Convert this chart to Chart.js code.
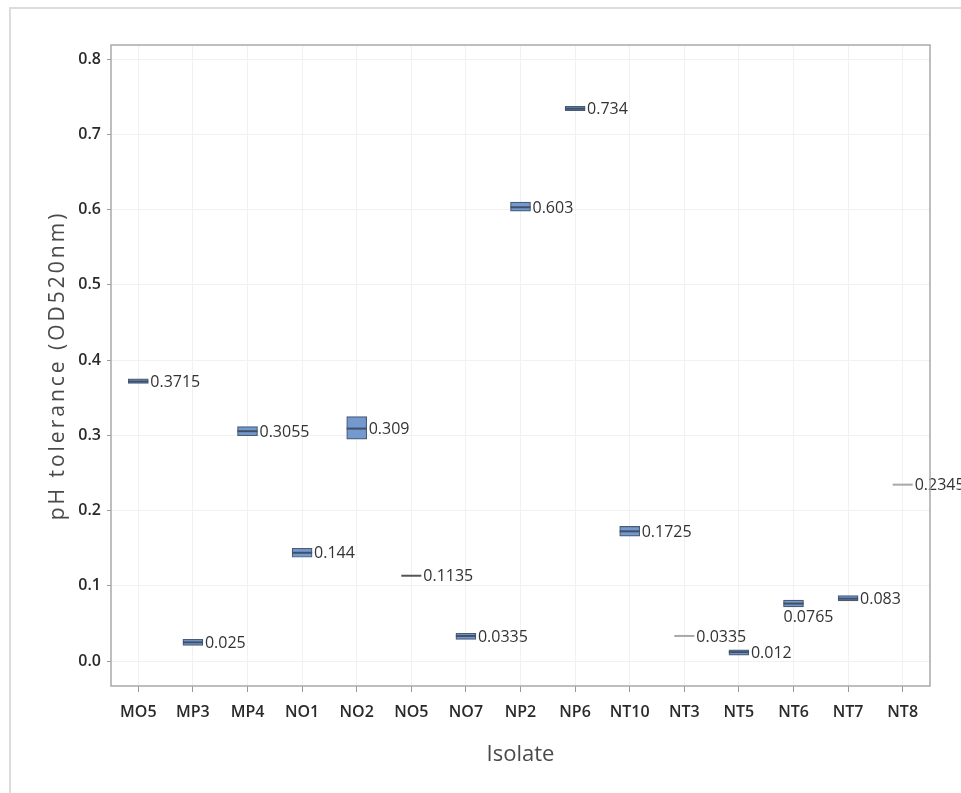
<!DOCTYPE html>
<html>
<head>
    <title>pH tolerance by isolate</title>
    <script src="https://cdn.jsdelivr.net/npm/chart.js"></script>
    <style>
        html, body { margin: 0; padding: 0; background: #fff; }
        #wrap { position: relative; width: 961px; height: 793px; overflow: hidden; }
        #frame { position: absolute; left: 9px; top: 7px; width: 1000px; height: 800px;
                 border-top: 2px solid #dcdcdc; border-left: 2px solid #dcdcdc; box-sizing: border-box; }
        #chart { position: absolute; left: 0; top: 0; }
    </style>
</head>
<body>
<div id="wrap">
    <div id="frame"></div>
    <canvas id="chart" width="961" height="793"></canvas>
</div>
<script>
// isolates and the box plot values
const isolates = ['MO5', 'MP3', 'MP4', 'NO1', 'NO2', 'NO5', 'NO7', 'NP2', 'NP6', 'NT10', 'NT3', 'NT5', 'NT6', 'NT7', 'NT8'];
const medians  = [0.3715, 0.025, 0.3055, 0.144, 0.309, 0.1135, 0.0335, 0.603, 0.734, 0.1725, 0.0335, 0.012, 0.0765, 0.083, 0.2345];
const boxLow   = [0.369, 0.021, 0.2995, 0.138, 0.295, null, 0.029, 0.598, 0.7315, 0.166, null, 0.008, 0.072, 0.080, null];
const boxHigh  = [0.375, 0.029, 0.3115, 0.150, 0.325, null, 0.037, 0.610, 0.7370, 0.179, null, 0.015, 0.081, 0.087, null];
const valueLabels = ['0.3715', '0.025', '0.3055', '0.144', '0.309', '0.1135', '0.0335', '0.603', '0.734', '0.1725', '0.0335', '0.012', '0.0765', '0.083', '0.2345'];
const yTicks = [0, 0.1, 0.2, 0.3, 0.4, 0.5, 0.6, 0.7, 0.8];

// isolates with a single reading get only a line, some drawn grey
const greyLines = ['NT3', 'NT8'];
const labelBelow = ['NT6'];

const FONT = "'Open Sans', 'Noto Sans', sans-serif";

const boxes = isolates.map((k, i) => boxLow[i] === null ? null : [boxLow[i], boxHigh[i]]);
const medianColors = isolates.map((k, i) => {
    if (greyLines.includes(k)) return '#a8a8a8';
    if (boxLow[i] === null) return '#555555';
    return '#3f5068';
});

const plotBorder = {
    id: 'plotBorder',
    afterDraw(chart) {
        const a = chart.chartArea, ctx = chart.ctx;
        ctx.save();
        ctx.strokeStyle = '#a9a9a9';
        ctx.lineWidth = 1.5;
        ctx.strokeRect(a.left, a.top, a.right - a.left, a.bottom - a.top);
        ctx.restore();
    }
};

// the y title is set with wide letter spacing in the original
const spacedTitle = {
    id: 'spacedTitle',
    beforeDraw(chart) {
        const s = chart.scales.y;
        if (s._spaced) return;
        const orig = s.drawTitle.bind(s);
        s.drawTitle = function () {
            chart.ctx.letterSpacing = '3px';
            orig();
            chart.ctx.letterSpacing = '0px';
        };
        s._spaced = true;
    }
};

const valueText = {
    id: 'valueText',
    afterDatasetsDraw(chart) {
        const ctx = chart.ctx;
        const x = chart.scales.x, y = chart.scales.y;
        ctx.save();
        ctx.font = "16px " + FONT;
        ctx.fillStyle = '#333';
        ctx.textAlign = 'left';
        isolates.forEach((k, i) => {
            const px = x.getPixelForValue(i);
            const py = y.getPixelForValue(medians[i]);
            if (labelBelow.includes(k)) {
                ctx.textBaseline = 'top';
                ctx.fillText(valueLabels[i], px - 10, y.getPixelForValue(boxLow[i]) + 2);
            } else {
                ctx.textBaseline = 'middle';
                ctx.fillText(valueLabels[i], px + 12, py + 1);
            }
        });
        ctx.restore();
    }
};

new Chart(document.getElementById('chart'), {
    type: 'bar',
    data: {
        labels: isolates,
        datasets: [{
            label: 'box',
            data: boxes,
            backgroundColor: '#7499cf',
            borderColor: '#4a5b74',
            borderWidth: 1.2,
            borderSkipped: false,
            barThickness: 20,
            order: 2
        }, {
            type: 'line',
            label: 'median',
            data: medians,
            showLine: false,
            pointStyle: 'line',
            pointRadius: 10,
            pointHoverRadius: 10,
            pointBorderWidth: 2,
            pointBorderColor: medianColors,
            pointBackgroundColor: medianColors,
            order: 1
        }]
    },
    options: {
        responsive: false,
        animation: false,
        layout: { padding: { left: 40, top: 45, right: 31, bottom: 0 } },
        plugins: {
            legend: { display: false },
            tooltip: { enabled: false }
        },
        scales: {
            x: {
                offset: true,
                grid: { offset: false, color: '#f1f1f1', tickColor: '#9a9a9a', tickLength: 6 },
                border: { display: false },
                ticks: { color: '#2a2a2a', font: { family: FONT, size: 16, weight: 600 }, padding: 11, maxRotation: 0 },
                title: { display: true, text: 'Isolate', color: '#4a4a4a', font: { family: FONT, size: 22 }, padding: { top: 4, bottom: 25 } },
                afterFit(scale) { scale.height = 107; }
            },
            y: {
                min: -0.033,
                max: 0.8186,
                grid: { color: '#f1f1f1', tickColor: '#9a9a9a', tickLength: 4 },
                border: { display: false },
                afterBuildTicks(scale) { scale.ticks = yTicks.map(v => ({ value: v })); },
                ticks: {
                    color: '#2a2a2a', font: { family: FONT, size: 16, weight: 600 }, padding: 6,
                    callback: v => Number(v).toFixed(1)
                },
                title: { display: true, text: 'pH tolerance (OD520nm)', color: '#4a4a4a', font: { family: FONT, size: 21 }, padding: { top: 5, bottom: 4 } },
                afterFit(scale) { scale.width = 71; }
            }
        }
    },
    plugins: [spacedTitle, plotBorder, valueText]
});
</script>
</body>
</html>
